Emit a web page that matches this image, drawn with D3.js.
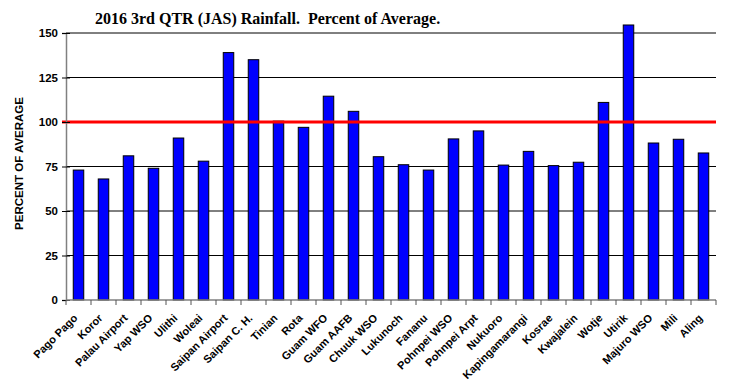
<!DOCTYPE html>
<html>
<head>
<meta charset="utf-8">
<script src="https://cdn.jsdelivr.net/npm/d3@7"></script>
<style>
  html, body { margin: 0; padding: 0; background: #fff; }
  svg { display: block; }
  .tick text { font-family: "Liberation Sans", Arial, sans-serif; font-weight: bold; font-size: 11.5px; fill: #000; }
</style>
</head>
<body>
<svg id="chart" width="729" height="383"></svg>
<script>
// Station names along the x axis
const stations = ["Pago Pago", "Koror", "Palau Airport", "Yap WSO", "Ulithi", "Woleai",
  "Saipan Airport", "Saipan C. H.", "Tinian", "Rota", "Guam WFO", "Guam AAFB", "Chuuk WSO",
  "Lukunoch", "Fananu", "Pohnpei WSO", "Pohnpei Arpt", "Nukuoro", "Kapingamarangi", "Kosrae",
  "Kwajalein", "Wotje", "Utirik", "Majuro WSO", "Mili", "Aling"];

// JAS rainfall as percent of average
const percentOfAverage = [73, 68, 81, 74, 91, 78,
  139, 135, 100.5, 97, 114.5, 106, 80.5,
  76, 73, 90.5, 95, 75.8, 83.5, 75.5,
  77.4, 111, 154.5, 88.2, 90.3, 82.6];

const yTicks = [0, 25, 50, 75, 100, 125, 150];
const averageLine = 100;

const svg = d3.select("#chart");
const margin = { left: 66, right: 13, top: 33, bottom: 83 };
const W = 729, H = 383;

const x = d3.scaleBand()
  .domain(stations)
  .range([margin.left, W - margin.right])
  .paddingInner(0.58)
  .paddingOuter(0.29);

const y = d3.scaleLinear()
  .domain([0, 150])
  .range([H - margin.bottom, margin.top]);

// Horizontal gridlines
svg.append("g")
  .selectAll("line")
  .data(yTicks.filter(d => d > 0))
  .join("line")
  .attr("x1", margin.left)
  .attr("x2", W - margin.right)
  .attr("y1", d => y(d))
  .attr("y2", d => y(d))
  .attr("stroke", "#000")
  .attr("stroke-width", 1);

// Bars
svg.append("g")
  .selectAll("rect")
  .data(stations.map((s, i) => ({ s, v: percentOfAverage[i] })))
  .join("rect")
  .attr("x", d => x(d.s))
  .attr("width", x.bandwidth())
  .attr("y", d => y(d.v))
  .attr("height", d => y(0) - y(d.v))
  .attr("fill", "#0000ff")
  .attr("stroke", "#000")
  .attr("stroke-width", 1);

// Reference line at 100 percent
svg.append("line")
  .attr("x1", margin.left - 4)
  .attr("x2", W - margin.right)
  .attr("y1", y(averageLine))
  .attr("y2", y(averageLine))
  .attr("stroke", "#ff0000")
  .attr("stroke-width", 3);

// Y axis
const yAxis = svg.append("g")
  .attr("transform", `translate(${margin.left},0)`)
  .call(d3.axisLeft(y).tickValues(yTicks).tickSize(4).tickPadding(4));
yAxis.select(".domain").attr("stroke", "#808080").attr("stroke-width", 1.5);
yAxis.selectAll(".tick line").attr("stroke", "#000").attr("x2", 4).attr("x1", -4);

// X axis: ticks at band boundaries
const boundaries = d3.range(stations.length + 1).map(i => margin.left + i * x.step());
const xAxisG = svg.append("g");
xAxisG.append("line")
  .attr("x1", margin.left).attr("x2", W - margin.right)
  .attr("y1", y(0)).attr("y2", y(0))
  .attr("stroke", "#808080").attr("stroke-width", 1.5);
xAxisG.selectAll("line.tk")
  .data(boundaries)
  .join("line")
  .attr("class", "tk")
  .attr("x1", d => d).attr("x2", d => d)
  .attr("y1", y(0)).attr("y2", y(0) + 5)
  .attr("stroke", "#555").attr("stroke-width", 1);

// Rotated station labels
xAxisG.selectAll("text")
  .data(stations)
  .join("text")
  .attr("transform", d => `translate(${x(d) + x.bandwidth() / 2 - 3},${y(0) + 16}) rotate(-45)`)
  .attr("text-anchor", "end")
  .attr("dy", "0.35em")
  .style("font-family", "'Liberation Sans', Arial, sans-serif")
  .style("font-weight", "bold")
  .style("font-size", "11px")
  .text(d => d);

// Y axis title
svg.append("text")
  .attr("transform", `translate(23,${(y(0) + y(150)) / 2 - 3}) rotate(-90)`)
  .attr("text-anchor", "middle")
  .style("font-family", "'Liberation Sans', Arial, sans-serif")
  .style("font-weight", "bold")
  .style("font-size", "11.5px")
  .text("PERCENT OF AVERAGE");

// Chart title
svg.append("text")
  .attr("x", 95)
  .attr("y", 24)
  .style("font-family", "'Liberation Serif', 'Times New Roman', serif")
  .style("font-weight", "bold")
  .style("font-size", "16px")
  .style("white-space", "pre")
  .text("2016 3rd QTR (JAS) Rainfall.  Percent of Average.");
</script>
</body>
</html>
